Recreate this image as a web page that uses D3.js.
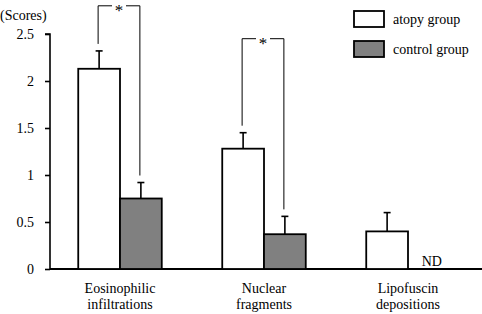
<!DOCTYPE html>
<html>
<head>
<meta charset="utf-8">
<script src="https://cdn.jsdelivr.net/npm/d3@7"></script>
</head>
<body style="margin:0;background:#fff">
<svg id="chart"></svg>
<script>
const categories = [["Eosinophilic", "infiltrations"], ["Nuclear", "fragments"], ["Lipofuscin", "depositions"]];
const groups = ["atopy group", "control group"];
const atopyMean = [2.13, 1.28, 0.40];
const atopySE = [0.19, 0.17, 0.20];
const controlMean = [0.75, 0.37, null];   // null = not detected
const controlSE = [0.17, 0.19, null];
const yTicks = [0, 0.5, 1, 1.5, 2, 2.5];
const brackets = [{ cat: 0, top: 2.8 }, { cat: 1, top: 2.45 }];

const width = 482, height = 314;
const margin = { top: 34, right: 2, bottom: 45, left: 48 };
const serif = "'Liberation Serif', 'Times New Roman', serif";

const svg = d3.select("#chart")
    .attr("width", width).attr("height", height)
    .style("font-family", serif);

const x = d3.scaleBand()
    .domain(d3.range(categories.length))
    .range([margin.left, width - margin.right])
    .paddingInner(0.42)
    .paddingOuter(0.21);
const xs = d3.scaleBand().domain(groups).range([0, x.bandwidth()]);
const y = d3.scaleLinear().domain([0, 2.5]).range([height - margin.bottom, margin.top]);

const fills = { "atopy group": "#fff", "control group": "#808080" };

// y axis
const yAxis = svg.append("g")
    .attr("transform", `translate(50,0)`)
    .call(d3.axisLeft(y).tickValues(yTicks).tickSize(5).tickPadding(11)
        .tickFormat(d => d));
yAxis.attr("font-family", null).attr("font-size", null);
yAxis.select(".domain").attr("stroke-width", 1.6).attr("d", `M-5,${y(2.5)}H0V${y(0)}`);
yAxis.selectAll(".tick line").attr("stroke-width", 1.6);
yAxis.selectAll(".tick text").style("font-family", serif).style("font-size", "14px");

// baseline
svg.append("line")
    .attr("x1", 50).attr("x2", width)
    .attr("y1", y(0)).attr("y2", y(0))
    .attr("stroke", "#000").attr("stroke-width", 1.8);

svg.append("text").attr("x", 0).attr("y", 20)
    .style("font-family", serif).style("font-size", "14px").text("(Scores)");

const rows = [];
categories.forEach((c, i) => {
  rows.push({ cat: i, group: groups[0], v: atopyMean[i], e: atopySE[i] });
  rows.push({ cat: i, group: groups[1], v: controlMean[i], e: controlSE[i] });
});
const present = rows.filter(d => d.v != null);

// error bars (upward only)
const err = svg.append("g").attr("stroke", "#000").attr("stroke-width", 1.6);
present.forEach(d => {
  const cx = x(d.cat) + xs(d.group) + xs.bandwidth() / 2;
  err.append("line").attr("x1", cx).attr("x2", cx).attr("y1", y(d.v)).attr("y2", y(d.v + d.e));
  err.append("line").attr("x1", cx - 3.5).attr("x2", cx + 3.5).attr("y1", y(d.v + d.e)).attr("y2", y(d.v + d.e));
});

// bars
svg.append("g").selectAll("rect")
  .data(present)
  .join("rect")
    .attr("x", d => x(d.cat) + xs(d.group))
    .attr("y", d => y(d.v))
    .attr("width", xs.bandwidth())
    .attr("height", d => y(0) - y(d.v))
    .attr("fill", d => fills[d.group])
    .attr("stroke", "#000")
    .attr("stroke-width", 1.8);

// ND labels
rows.filter(d => d.v == null).forEach(d => {
  svg.append("text")
    .attr("x", x(d.cat) + xs(d.group) + xs.bandwidth() / 2 + 3)
    .attr("y", y(0) - 3)
    .attr("text-anchor", "middle")
    .style("font-family", serif).style("font-size", "14px")
    .text("ND");
});

// significance brackets
brackets.forEach(b => {
  const a = rows.find(d => d.cat === b.cat && d.group === groups[0]);
  const c = rows.find(d => d.cat === b.cat && d.group === groups[1]);
  const x1 = x(b.cat) + xs(groups[0]) + xs.bandwidth() / 2 - 1;
  const x2 = x(b.cat) + xs(groups[1]) + xs.bandwidth() / 2 - 1;
  const yt = y(b.top);
  const mid = (x1 + x2) / 2;
  const g = svg.append("g").attr("stroke", "#000").attr("stroke-width", 1).attr("fill", "none");
  g.append("path").attr("d", `M${x1},${y(a.v + a.e) - 7}V${yt}H${mid - 7}`);
  g.append("path").attr("d", `M${mid + 7},${yt}H${x2}V${y(c.v + c.e) - 7}`);
  svg.append("text").attr("x", mid).attr("y", yt + 10)
    .attr("text-anchor", "middle")
    .style("font-family", serif).style("font-size", "17px").text("*");
});

// category labels
categories.forEach((lines, i) => {
  const cx = x(i) + x.bandwidth() / 2;
  const t = svg.append("text")
    .attr("x", cx)
    .attr("y", 293)
    .attr("text-anchor", "middle")
    .style("font-family", serif).style("font-size", "14px");
  lines.forEach((l, k) => t.append("tspan").attr("x", cx).attr("dy", k ? 16 : 0).text(l));
});

// legend
const legend = svg.append("g");
groups.forEach((gname, i) => {
  legend.append("rect")
    .attr("x", 354).attr("y", 11 + i * 30)
    .attr("width", 30).attr("height", 16)
    .attr("fill", fills[gname]).attr("stroke", "#000").attr("stroke-width", 1.8);
  legend.append("text")
    .attr("x", 393).attr("y", 19 + i * 30)
    .attr("dy", "0.35em")
    .style("font-family", serif).style("font-size", "14px")
    .text(gname);
});
</script>
</body>
</html>
